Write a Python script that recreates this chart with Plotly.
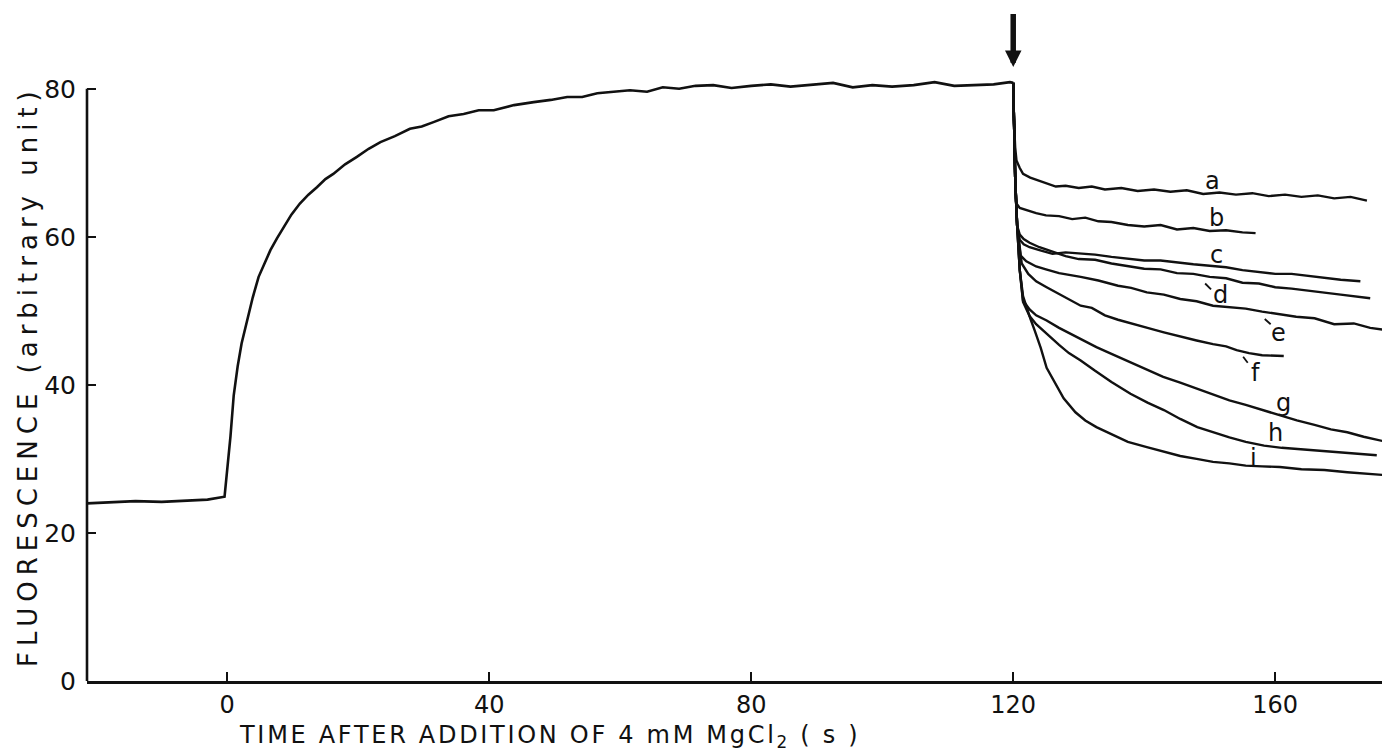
import plotly.graph_objects as go

# ---- main trace (rise after MgCl2 addition) ----
main_t = [-21.4, -18, -14, -10, -6, -3, -0.4, 0.0, 0.5, 1.0, 1.6, 2.2, 3.0, 3.9, 4.8, 5.7,
          6.6, 7.6, 8.6, 9.8, 11.1, 12.4, 13.7, 15.0, 16.2, 18.0, 19.8, 21.6, 23.4, 25.6,
          27.9, 29.7, 31.5, 33.8, 36.1, 38.4, 40.7, 43.8, 46.8, 49.4, 51.9, 54.2, 56.5, 59,
          61.5, 64.1, 66.5, 69, 71.5, 74.2, 77, 80, 83, 86, 89.5, 92.5, 95.5, 98.5, 101.5,
          104.8, 108, 111, 114, 117, 119.5, 120]
main_v = [24.0, 24.1, 24.3, 24.2, 24.4, 24.5, 24.9, 28.5, 33.0, 38.6, 42.5, 45.6, 48.7, 51.8,
          54.6, 56.5, 58.2, 59.8, 61.3, 63.0, 64.5, 65.7, 66.7, 67.8, 68.5, 69.8, 70.8, 71.9,
          72.8, 73.6, 74.6, 74.9, 75.5, 76.3, 76.6, 77.1, 77.1, 77.8, 78.2, 78.5, 78.9, 78.9,
          79.4, 79.6, 79.8, 79.6, 80.2, 80.0, 80.4, 80.5, 80.1, 80.4, 80.6, 80.3, 80.6, 80.8,
          80.2, 80.5, 80.3, 80.5, 80.9, 80.4, 80.5, 80.6, 80.9, 80.8]

# ---- decay traces a..i after the arrow ----
a_t = [120, 120.1, 120.3, 120.5, 121.0, 121.5, 122.6, 123.8, 125.0, 126.5, 128, 130, 132, 134,
       136.5, 139, 141.5, 144, 146.5, 149, 151.5, 154, 156.5, 159, 161.5, 164, 166.5, 169,
       171.5, 174]
a_v = [80.8, 76.0, 72.1, 70.3, 69.3, 68.5, 68.0, 67.6, 67.2, 66.8, 66.9, 66.6, 66.8, 66.4,
       66.6, 66.2, 66.4, 66.1, 66.3, 65.8, 66.0, 65.7, 65.9, 65.5, 65.7, 65.4, 65.6, 65.2,
       65.4, 64.9]

b_t = [120, 120.2, 120.4, 121, 122, 123.5, 125, 127, 129, 131, 133, 135, 137.5, 140, 142.5,
       145, 147.5, 150, 152.5, 155, 157]
b_v = [80.8, 70.0, 64.6, 63.9, 63.6, 63.2, 62.9, 62.8, 62.4, 62.6, 62.1, 62.0, 61.6, 61.4,
       61.6, 61.0, 61.2, 60.8, 60.9, 60.6, 60.5]

c_t = [120, 120.3, 120.6, 121, 121.6, 122.5, 124, 126, 128, 130, 132.5, 135, 137.5, 140,
       142.5, 145, 147.5, 150, 152.5, 155, 157.5, 160, 162.5, 165, 167.5, 170, 173]
c_v = [80.8, 68.0, 61.5, 59.6, 59.0, 58.6, 58.2, 57.7, 57.9, 57.8, 57.6, 57.3, 57.1, 56.8,
       56.8, 56.5, 56.3, 56.1, 55.9, 55.5, 55.3, 55.0, 55.0, 54.7, 54.4, 54.2, 54.0]

d_t = [120, 120.3, 120.6, 121, 121.6, 122.5, 124, 126, 128, 130, 132.5, 135, 137.5, 140,
       142.5, 145, 147.5, 150, 152.5, 155, 157.5, 160, 162.5, 165, 167.5, 170, 174.5]
d_v = [80.8, 68.0, 61.5, 60.3, 59.7, 59.2, 58.6, 58.0, 57.4, 57.0, 56.9, 56.4, 56.1, 55.7,
       55.6, 55.1, 55.0, 54.6, 54.4, 53.8, 53.7, 53.2, 53.0, 52.7, 52.4, 52.2, 51.7]

e_t = [120, 120.3, 120.6, 121.1, 122, 123.5, 125, 127, 130.3, 133, 136, 138, 140.4, 143,
       145.5, 148, 150.5, 153, 155.5, 158, 160.5, 163.2, 166, 169, 172, 174.5, 176.9]
e_v = [80.8, 68.0, 61.5, 57.5, 56.7, 56.0, 55.6, 55.1, 54.6, 54.1, 53.4, 53.1, 52.5, 52.2,
       51.6, 51.3, 50.7, 50.5, 50.3, 49.9, 49.6, 49.2, 49.0, 48.2, 48.3, 47.7, 47.4]

f_t = [120, 120.3, 120.6, 121.3, 122.3, 123.5, 125.1, 127.5, 130.3, 132, 134, 136, 137.9,
       140.5, 143, 145.5, 148, 150.5, 152.5, 154.1, 156, 158, 161.3]
f_v = [80.8, 68.0, 61.5, 56.4, 55.0, 54.0, 53.2, 52.0, 50.7, 50.4, 49.4, 48.8, 48.3, 47.7,
       47.1, 46.5, 46.0, 45.5, 45.2, 44.7, 44.3, 44.0, 43.9]

g_t = [120, 120.3, 120.6, 121.0, 121.5, 122.5, 123.5, 125.1, 127, 129, 130.8, 132.7, 135,
       137.5, 140, 142.9, 145.5, 148, 150.5, 153, 155.5, 158, 160.5, 163.3, 166, 168.5, 171,
       173.5, 177]
g_v = [80.8, 68.0, 61.5, 55.5, 51.4, 50.2, 49.4, 48.7, 47.7, 46.8, 45.9, 45.1, 44.2, 43.2,
       42.3, 41.1, 40.3, 39.5, 38.8, 37.9, 37.3, 36.6, 35.9, 35.2, 34.6, 34.0, 33.6, 33.0,
       32.3]

h_t = [120, 120.3, 120.6, 121.0, 121.5, 122.5, 123.5, 125.1, 127, 128.5, 130.3, 132.5, 135,
       137.9, 140.5, 143, 145.5, 148.1, 150.5, 153, 155.5, 158.3, 161, 164, 167, 170, 172.5,
       175.5]
h_v = [80.8, 68.0, 61.5, 55.5, 51.2, 49.3, 48.2, 46.9, 45.4, 44.3, 43.3, 41.9, 40.4, 38.8,
       37.6, 36.6, 35.4, 34.3, 33.6, 32.9, 32.3, 31.8, 31.5, 31.3, 31.0, 30.8, 30.7, 30.5]

i_t = [120, 120.3, 120.6, 121.0, 121.5, 122.0, 122.6, 123.3, 124.2, 125.1, 126.5, 127.7,
       129.5, 131, 132.7, 135, 137.5, 140.4, 143, 145.5, 148, 150.5, 153, 155.5, 158, 160.7,
       164, 167.5, 171, 174, 177]
i_v = [80.8, 68.0, 61.5, 55.5, 52.0, 50.5, 49.0, 47.3, 45.0, 42.3, 40.0, 38.2, 36.3, 35.2,
       34.3, 33.3, 32.3, 31.6, 31.0, 30.4, 30.0, 29.6, 29.4, 29.1, 29.0, 28.9, 28.6, 28.5,
       28.2, 28.0, 27.8]

curve_names = ["a", "b", "c", "d", "e", "f", "g", "h", "i"]
curve_t = [a_t, b_t, c_t, d_t, e_t, f_t, g_t, h_t, i_t]
curve_v = [a_v, b_v, c_v, d_v, e_v, f_v, g_v, h_v, i_v]

# curve letter label positions (data coordinates)
label_x = [150.4, 151.0, 151.1, 151.6, 160.5, 157.0, 161.2, 160.0, 156.7]
label_y = [67.6, 62.5, 57.6, 52.1, 47.0, 41.6, 37.5, 33.5, 30.1]

# short leader ticks next to labels d, e, f
leader_x0 = [149.3, 158.4, 155.1]
leader_y0 = [53.7, 48.9, 43.8]
leader_x1 = [150.2, 159.3, 155.8]
leader_y1 = [52.9, 48.2, 43.0]

x_ticks = [0, 40, 80, 120, 160]
y_ticks = [0, 20, 40, 60, 80]
arrow_t = 120

INK = "#111111"
FONT = "DejaVu Sans, Liberation Sans, Arial, sans-serif"

fig = go.Figure()
fig.add_trace(go.Scatter(x=main_t, y=main_v, mode="lines",
                         line=dict(color=INK, width=2.6), showlegend=False, hoverinfo="skip"))
for name, t, v in zip(curve_names, curve_t, curve_v):
    fig.add_trace(go.Scatter(x=t, y=v, mode="lines", name=name,
                             line=dict(color=INK, width=2.4), showlegend=False))

for name, lx, ly in zip(curve_names, label_x, label_y):
    fig.add_annotation(x=lx, y=ly, text=name, showarrow=False,
                       font=dict(family=FONT, size=24, color=INK))

for x0, y0, x1, y1 in zip(leader_x0, leader_y0, leader_x1, leader_y1):
    fig.add_shape(type="line", x0=x0, y0=y0, x1=x1, y1=y1, xref="x", yref="y",
                  line=dict(color=INK, width=1.8))

# y axis line only up to 80
fig.add_shape(type="line", xref="paper", x0=0, x1=0, yref="y", y0=0, y1=y_ticks[-1],
              line=dict(color=INK, width=2.6))

# arrow marking the time point (tip just above the top of the plot area)
fig.add_annotation(x=arrow_t, xref="x", y=1.0115, yref="paper", ax=0, ay=-57,
                   showarrow=True, arrowhead=2, arrowsize=0.6, arrowwidth=5.5,
                   arrowcolor=INK, text=" ", font=dict(size=4))

# axis titles (letter-spaced like the original typesetting)
fig.add_annotation(xref="paper", yref="paper", x=0.3575, y=-0.092, yanchor="middle",
                   text='<span style="letter-spacing:2.7px">TIME AFTER ADDITION OF 4 mM MgCl'
                        '<sub>2</sub> ( s )</span>',
                   showarrow=False, font=dict(family=FONT, size=24, color=INK))
fig.add_annotation(xref="paper", yref="paper", x=-0.0456, y=0.5025, xanchor="center",
                   text='<span style="letter-spacing:6px">FLUORESCENCE (arbitrary unit)</span>',
                   textangle=-90, showarrow=False,
                   font=dict(family=FONT, size=26, color=INK))

fig.update_layout(
    width=1387, height=748,
    margin=dict(l=79, r=13, t=66, b=75),
    paper_bgcolor="white", plot_bgcolor="white",
    font=dict(family=FONT, color=INK),
)
fig.update_xaxes(range=[-21.4, 176.3], tickvals=x_ticks, ticks="inside", ticklen=9,
                 tickwidth=2, tickcolor=INK, showline=True, linecolor=INK, linewidth=2.6,
                 showgrid=False, zeroline=False, tickfont=dict(size=24, color=INK))
fig.update_yaxes(range=[0, 82], tickvals=y_ticks, ticks="inside", ticklen=9, tickwidth=2,
                 tickcolor=INK, showline=False, showgrid=False, zeroline=False,
                 ticklabelstandoff=10, tickfont=dict(size=25, color=INK))

fig.write_html("out.html")
